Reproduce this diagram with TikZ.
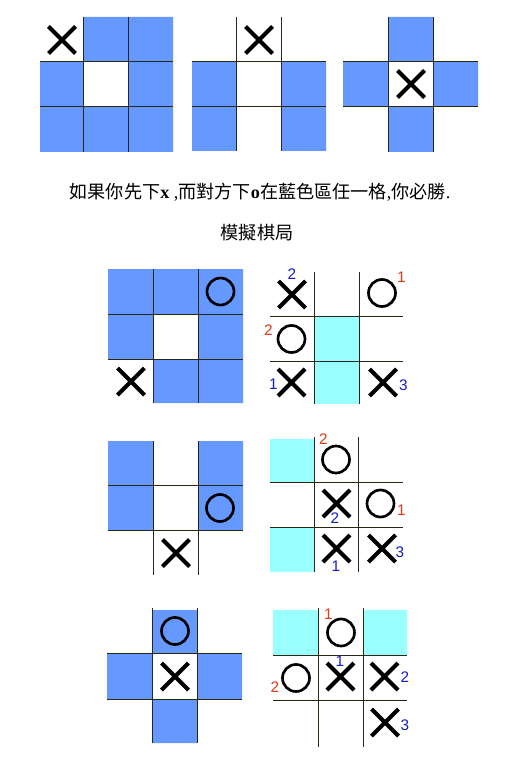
\documentclass[tikz,border=0pt]{standalone}
\usepackage{fontspec}
\setmainfont{Liberation Serif}
\newfontfamily\cjk{Noto Sans CJK TC}
\newfontfamily\numfont{Liberation Sans}

\tikzset{every picture/.style={line width=0.75pt},
	bluecell/.style={fill={rgb,255:red,102;green,153;blue,255}},
	cyancell/.style={fill={rgb,255:red,153;green,255;blue,255}},
	gridline/.style={draw={rgb,255:red,40;green,40;blue,20}},
	xmark/.style={line width=3pt},
	omark/.style={line width=2pt},
	numred/.style={text={rgb,255:red,220;green,60;blue,20},font=\numfont\fontsize{11.5}{13}\selectfont,inner sep=0.75pt},
	numblue/.style={text={rgb,255:red,20;green,30;blue,200},font=\numfont\fontsize{11.5}{13}\selectfont,inner sep=0.75pt}}

\begin{document}
\begin{tikzpicture}[x=0.75pt,y=0.75pt,yscale=-1,xscale=1]
	\useasboundingbox (0,0) rectangle (515,763);
	\fill [white] (0,0) rectangle (515,763);
	
	%Shape: Squares, first board
	\fill [bluecell] (83.5,17) rectangle (173,62) (40,62) rectangle (83.5,107) (128,62) rectangle (173,107) (40,107) rectangle (173,152);
	%Straight Lines
	\draw [gridline] (83.5,17) -- (83.5,152) (128,17) -- (128,152) (40,62) -- (173,62) (40,107) -- (173,107);
	\draw [xmark] (48.5,26.5) -- (75.5,53.5) (75.5,26.5) -- (48.5,53.5);
	
	%Shape: Squares, second board
	\fill [bluecell] (192,62) rectangle (236,151) (281,62) rectangle (326,151);
	%Straight Lines
	\draw [gridline] (236,17) -- (236,151) (281,17) -- (281,151) (192,62) -- (326,62) (192,107) -- (326,107);
	\draw [xmark] (245.5,26.5) -- (272.5,53.5) (272.5,26.5) -- (245.5,53.5);
	
	%Shape: Squares, third board
	\fill [bluecell] (388,17) rectangle (433,62) (343,62) rectangle (388,107) (433,62) rectangle (478,107) (388,107) rectangle (433,152);
	%Straight Lines
	\draw [gridline] (388,17) -- (388,152) (433,17) -- (433,152) (343,62) -- (478,62) (343,107) -- (478,107);
	\draw [xmark] (397.5,70.5) -- (424.5,97.5) (424.5,70.5) -- (397.5,97.5);
	
	% Text Node
	\draw (260,192) node [inner sep=0.75pt,font=\fontsize{13.6}{16}\selectfont] (hint) {{\cjk 如果你先下}\textbf{x} ,{\cjk 而對方下}\textbf{o}{\cjk 在藍色區任一格},{\cjk 你必勝}.};
	% Text Node
	\draw (257,233) node [inner sep=0.75pt,font=\fontsize{13.6}{16}\selectfont] (demo) {\cjk 模擬棋局};
	
	%Shape: Squares, pair one left
	\fill [bluecell] (108,269) rectangle (243,314) (108,314) rectangle (153,359) (198,314) rectangle (243,359) (153,359) rectangle (243,403);
	%Straight Lines
	\draw [gridline] (153,269) -- (153,403) (198,269) -- (198,403) (108,314) -- (243,314) (108,359) -- (243,359);
	\draw [omark] (220.5,291.5) circle (13.5);
	\draw [xmark] (117.5,368) -- (144.5,395) (144.5,368) -- (117.5,395);
	
	%Shape: Squares, pair one right
	\fill [cyancell] (314.5,316) rectangle (359.5,404);
	%Straight Lines
	\draw [gridline] (314.5,271.5) -- (314.5,404) (359.5,271.5) -- (359.5,404) (270,316) -- (403,316) (270,361) -- (403,361);
	\draw [xmark] (278.5,281) -- (305.5,308) (305.5,281) -- (278.5,308);
	\draw [omark] (382,293) circle (13.5);
	\draw [omark] (291.5,339) circle (13.5);
	\draw [xmark] (278,369) -- (305,396) (305,369) -- (278,396);
	\draw [xmark] (369.5,369) -- (396.5,396) (396.5,369) -- (369.5,396);
	% Text Node
	\draw (292,274) node [numblue] (a2) {2};
	\draw (401.5,277) node [numred] (a1) {1};
	\draw (268.5,330.5) node [numred] (a3) {2};
	\draw (273.5,384) node [numblue] (a4) {1};
	\draw (403.5,385.5) node [numblue] (a5) {3};
	
	%Shape: Squares, pair two left
	\fill [bluecell] (108,441) rectangle (153,530) (198,441) rectangle (243,530);
	%Straight Lines
	\draw [gridline] (153,441) -- (153,575) (198,441) -- (198,575) (108,485.5) -- (243,485.5) (108,530) -- (243,530);
	\draw [omark] (220,508) circle (13.5);
	\draw [xmark] (162.5,539.5) -- (189.5,566.5) (189.5,539.5) -- (162.5,566.5);
	
	%Shape: Squares, pair two right
	\fill [cyancell] (270,439) rectangle (314,482.5) (270,527) rectangle (314,572);
	%Straight Lines
	\draw [gridline] (314,437) -- (314,572) (358.5,437) -- (358.5,572) (270,482.5) -- (403,482.5) (270,527) -- (403,527);
	\draw [omark] (336,459.5) circle (13.5);
	\draw [xmark] (323,490) -- (350,517) (350,490) -- (323,517);
	\draw [omark] (380.5,503.5) circle (13.5);
	\draw [xmark] (323,535) -- (350,562) (350,535) -- (323,562);
	\draw [xmark] (368.5,535) -- (395.5,562) (395.5,535) -- (368.5,562);
	% Text Node
	\draw (323.5,439.5) node [numred] (b1) {2};
	\draw (335,518.5) node [numblue] (b2) {2};
	\draw (401.5,510.5) node [numred] (b3) {1};
	\draw (336,566.5) node [numblue] (b4) {1};
	\draw (400,552.5) node [numblue] (b5) {3};
	
	%Shape: Squares, pair three left
	\fill [bluecell] (152.5,610) rectangle (197,653.5) (107,653.5) rectangle (152.5,699) (197,653.5) rectangle (242,699) (152.5,699) rectangle (197,743);
	%Straight Lines
	\draw [gridline] (152.5,608) -- (152.5,743) (197,608) -- (197,743) (107,653.5) -- (242,653.5) (107,699) -- (242,699);
	\draw [omark] (175,631) circle (13.5);
	\draw [xmark] (161.5,663) -- (188.5,690) (188.5,663) -- (161.5,690);
	
	%Shape: Squares, pair three right
	\fill [cyancell] (273,610) rectangle (318,655) (363,610) rectangle (407,655);
	%Straight Lines
	\draw [gridline] (318,608) -- (318,747) (363,608) -- (363,747) (273,655) -- (407,655) (273,700) -- (407,700);
	\draw [omark] (341,632.5) circle (13.5);
	\draw [omark] (296,678) circle (13.5);
	\draw [xmark] (327,663) -- (354,690) (354,663) -- (327,690);
	\draw [xmark] (371,663) -- (398,690) (398,663) -- (371,690);
	\draw [xmark] (371.5,709) -- (398.5,736) (398.5,709) -- (371.5,736);
	% Text Node
	\draw (328.5,614) node [numred] (c1) {1};
	\draw (275,687.5) node [numred] (c2) {2};
	\draw (340,661.5) node [numblue] (c3) {1};
	\draw (405,677.5) node [numblue] (c4) {2};
	\draw (405,725) node [numblue] (c5) {3};
	
\end{tikzpicture}
\end{document}
